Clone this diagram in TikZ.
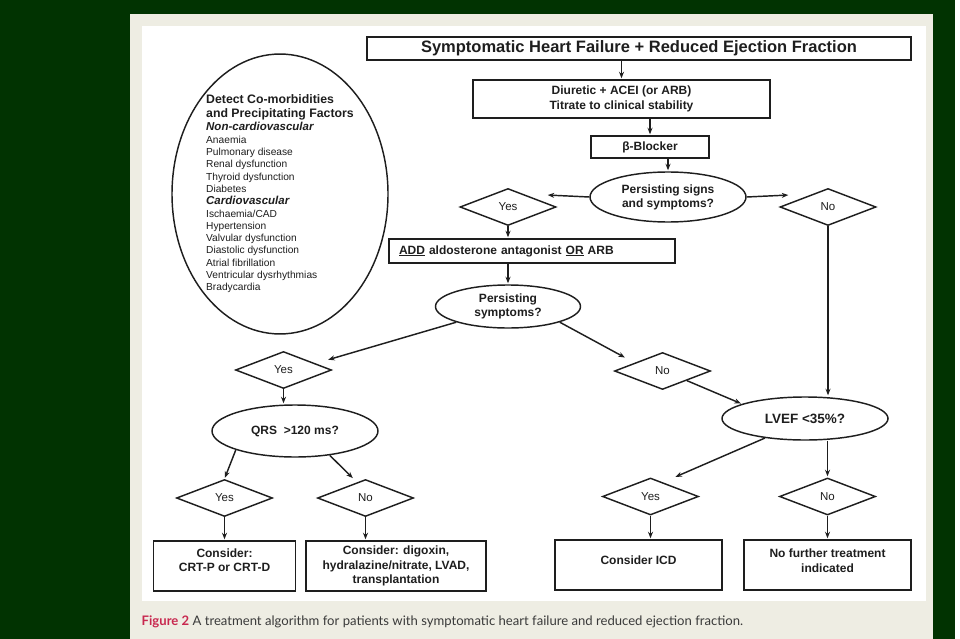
\documentclass[tikz,border=0pt]{standalone}
\usepackage{fontspec}
\setmainfont{Liberation Sans}
\newfontfamily\captionfont{Lato}
\usetikzlibrary{shapes.geometric,positioning,arrows.meta}

\definecolor{framegreen}{HTML}{013301}
\definecolor{paper}{HTML}{EEEDE3}
\definecolor{figred}{HTML}{C8284F}
\definecolor{capgrey}{HTML}{3A3A3A}
\definecolor{ink}{HTML}{1E1E1E}

\tikzset{
  box/.style={rectangle,draw,align=center,inner sep=0pt,
    font=\bfseries\fontsize{12}{14.5}\selectfont},
  query/.style={ellipse,draw,align=center,inner sep=0pt,
    font=\bfseries\fontsize{12}{14}\selectfont},
  decision/.style={diamond,draw,aspect=2.6,inner sep=0pt,
    minimum width=96pt,minimum height=37pt,font=\fontsize{11.5}{13}\selectfont}
}

\begin{document}
\begin{tikzpicture}[x=1pt,y=-1pt,shorten >=1pt,on grid,color=ink,line width=1.45pt,
    >={Stealth[length=6.5pt,width=5pt]}]
      \useasboundingbox (0,0) rectangle (960,639);
      \fill[framegreen] (0,0) rectangle (960,639);
      \fill[paper] (130,14) rectangle (933,639);
      \fill[white] (142,26) rectangle (926,601);
      \fill[white] (955,0) rectangle (960,639);

      \node[ellipse,draw,minimum width=216pt,minimum height=272pt,inner sep=0pt,align=left,
        font=\fontsize{10.2}{12.3}\selectfont] (factors) at (280,194)
        {{\bfseries\fontsize{12.3}{14}\selectfont Detect Co-morbidities}\\[1.7pt]
         {\bfseries\fontsize{12.3}{14}\selectfont and Precipitating Factors}\\[0.7pt]
         {\bfseries\itshape\fontsize{11.5}{13}\selectfont Non-cardiovascular}\\
         Anaemia\\ Pulmonary disease\\ Renal dysfunction\\ Thyroid dysfunction\\ Diabetes\\
         {\bfseries\itshape\fontsize{11.5}{13}\selectfont Cardiovascular}\\
         Ischaemia/CAD\\ Hypertension\\ Valvular dysfunction\\ Diastolic dysfunction\\
         Atrial fibrillation\\ Ventricular dysrhythmias\\ Bradycardia};

      \node[box,minimum width=544pt,minimum height=23pt,
        font=\bfseries\fontsize{16.5}{18}\selectfont] (hf) at (639,48.5)
        {Symptomatic Heart Failure + Reduced Ejection Fraction};
      \node[box,minimum width=297pt,minimum height=38pt] (diuretic) [below left=50.5pt and 17.5pt of hf]
        {Diuretic + ACEI (or ARB)\\Titrate to clinical stability};
      \node[box,minimum width=118pt,minimum height=22pt] (beta) [below right=48pt and 28.5pt of diuretic] {β-Blocker};
      \node[query,minimum width=156pt,minimum height=50pt] (signs) [below right=50pt and 18pt of beta]
        {Persisting signs\\and symptoms?};
      \node[decision] (yes_1) [below left=10pt and 160pt of signs] {Yes};
      \node[decision] (no_1) [below right=10pt and 160pt of signs] {No};
      \node[box,minimum height=24pt,text width=266pt,inner xsep=10pt,align=left] (add)
        [below right=44pt and 24pt of yes_1] {\underline{ADD} aldosterone antagonist \underline{OR} ARB};
      \node[query,minimum width=145pt,minimum height=43pt] (symptoms) [below=99.5pt of yes_1]
        {Persisting\\symptoms?};

      \node[decision] (yes_2) [below left=63.5pt and 224.5pt of symptoms] {Yes};
      \node[decision] (no_2) [below right=64.5pt and 154.5pt of symptoms] {No};
      \node[query,minimum width=166pt,minimum height=52pt] (qrs) [below right=61pt and 11.5pt of yes_2]
        {QRS~~>120 ms?};
      \node[query,minimum width=166pt,minimum height=43pt,font=\bfseries\fontsize{13.5}{15}\selectfont] (lvef)
        [below left=211.5pt and 23pt of no_1] {LVEF <35\%?};

      \node[decision] (yes_3) [below left=67pt and 70.5pt of qrs] {Yes};
      \node[decision] (no_3) [below right=67pt and 70.5pt of qrs] {No};
      \node[decision] (yes_4) [below left=78pt and 154.5pt of lvef] {Yes};
      \node[decision] (no_4) [below right=78pt and 22.5pt of lvef] {No};

      \node[box,minimum width=142pt,minimum height=50pt,text depth=12pt] (crt) [below=68pt of yes_3]
        {Consider:\\CRT-P or CRT-D};
      \node[box,minimum width=180pt,minimum height=50pt] (digoxin) [below right=68pt and 30.5pt of no_3]
        {Consider: digoxin,\\hydralazine/nitrate, LVAD,\\transplantation};
      \node[box,minimum width=167pt,minimum height=50pt,text depth=10pt] (icd) [below left=68.5pt and 12pt of yes_4]
        {Consider ICD};
      \node[box,minimum width=167pt,minimum height=50pt,text depth=9pt] (nofurther) [below=68.5pt of no_4]
        {No further treatment\\indicated};

      \node[anchor=base west,inner sep=0pt,text=capgrey,font=\captionfont\fontsize{13.1}{15}\selectfont]
        (caption) at (141,625) {\textcolor{figred}{\bfseries Figure 2} A treatment algorithm for patients
        with symptomatic heart failure and reduced ejection fraction.};

      \path[->]
        (hf.south -| diuretic) edge (diuretic)
        (diuretic.south -| beta) edge (beta)
        (beta.south -| signs) edge (signs)
        (signs.west) edge ([xshift=-10pt,yshift=12pt]yes_1.east)
        (signs.east) edge ([xshift=10pt,yshift=12pt]no_1.west)
        (yes_1.south) edge (yes_1.south |- add.north)
        (add.south -| symptoms) edge (symptoms)

        (symptoms.south west) edge ([xshift=-5pt,yshift=10pt]yes_2.east)
        (symptoms.south east) edge ([xshift=12pt,yshift=13pt]no_2.west)
        (yes_2.south) edge (yes_2.south |- qrs.north)
        (no_2.south east) edge (lvef.167)
        (no_1) edge (no_1 |- lvef.north)

        (qrs.south west) edge (yes_3.north)
        (qrs.325) edge ([xshift=-12pt]no_3.north)
        (lvef.206) edge ([xshift=24pt]yes_4.north)
        (no_4 |- lvef.south) edge (no_4)

        (yes_3) edge (crt)
        (no_3) edge (no_3 |- digoxin.north)
        (yes_4) edge (yes_4 |- icd.north)
        (no_4) edge (nofurther);
    \end{tikzpicture}
\end{document}
